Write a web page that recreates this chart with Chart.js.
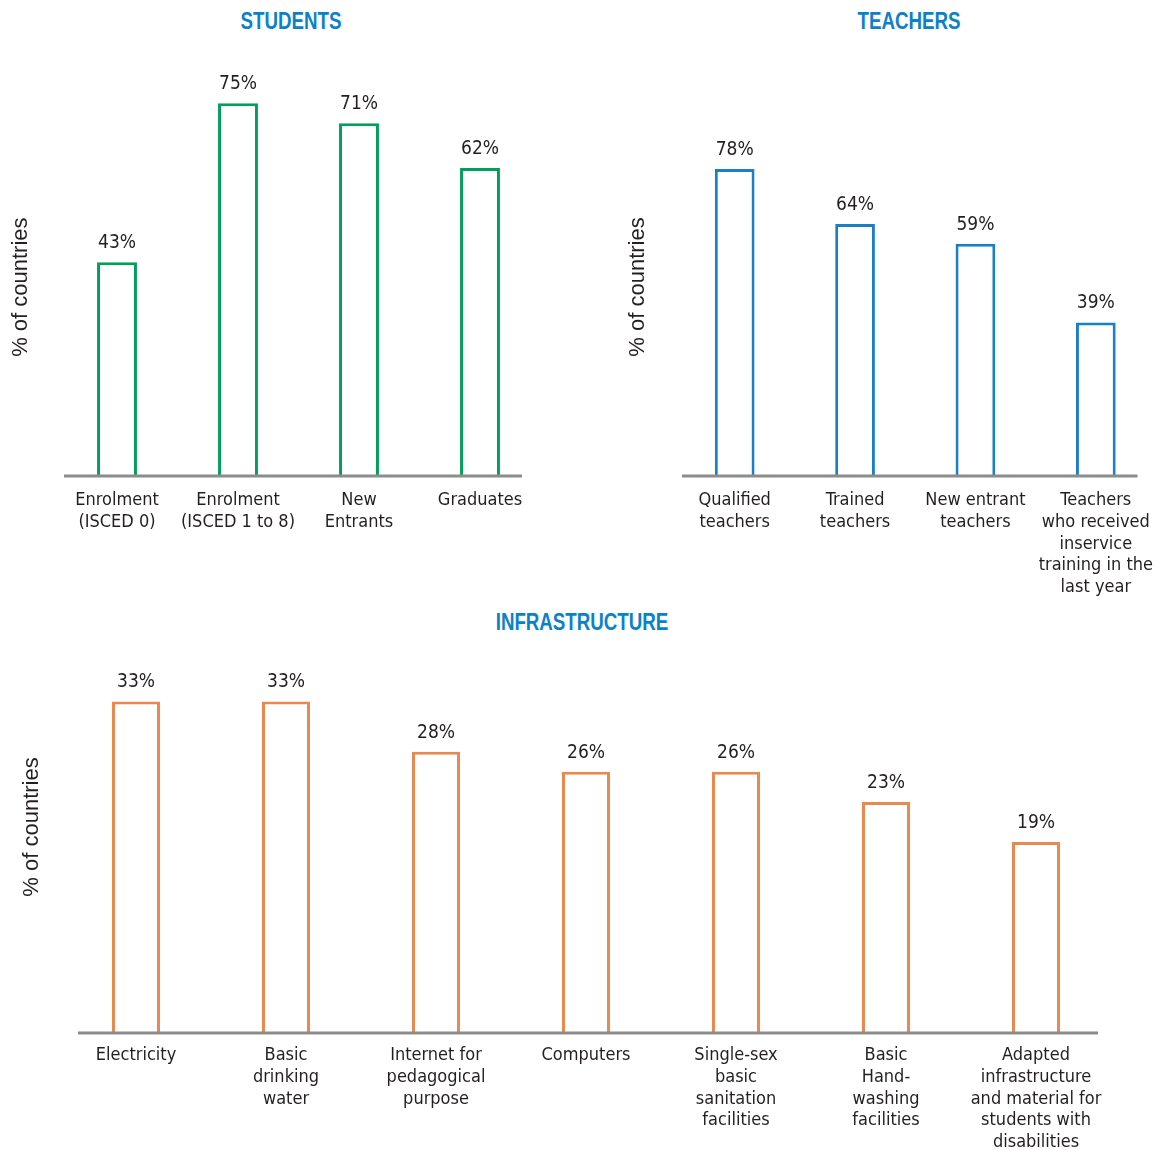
<!DOCTYPE html>
<html>
<head>
<meta charset="utf-8">
<script src="https://cdn.jsdelivr.net/npm/chart.js@4.4.1/dist/chart.umd.min.js"></script>
<style>
  html, body { margin: 0; padding: 0; background: #fff; overflow: hidden; }
  body { width: 1156px; height: 1150px; position: relative; }
  canvas { position: absolute; }
  .panel-title {
    position: absolute; width: 300px; text-align: center; line-height: 26px;
    font-family: 'Liberation Sans', Arial, sans-serif;
    font-weight: bold; font-size: 24px; color: #0b82c8;
    transform: scaleX(0.78);
  }
</style>
</head>
<body>
<div class="panel-title" style="left:141px;top:8px">STUDENTS</div>
<div class="panel-title" style="left:759px;top:8px">TEACHERS</div>
<div class="panel-title" style="left:432px;top:609px">INFRASTRUCTURE</div>

<canvas id="students-chart" width="578" height="600" style="left:0;top:0"></canvas>
<canvas id="teachers-chart" width="578" height="600" style="left:578px;top:0"></canvas>
<canvas id="infra-chart" width="1156" height="550" style="left:0;top:600px"></canvas>

<script>
// Data
const studentLabels = [['Enrolment', '(ISCED 0)'], ['Enrolment', '(ISCED 1 to 8)'], ['New', 'Entrants'], ['Graduates']];
const studentValues = [43, 75, 71, 62];

const teacherLabels = [['Qualified', 'teachers'], ['Trained', 'teachers'], ['New entrant', 'teachers'],
    ['Teachers', 'who received', 'inservice', 'training in the', 'last year']];
const teacherValues = [78, 64, 59, 39];

const infraLabels = [['Electricity'], ['Basic', 'drinking', 'water'], ['Internet for', 'pedagogical', 'purpose'],
    ['Computers'], ['Single-sex', 'basic', 'sanitation', 'facilities'], ['Basic', 'Hand-', 'washing', 'facilities'],
    ['Adapted', 'infrastructure', 'and material for', 'students with', 'disabilities']];
const infraValues = [33, 33, 28, 26, 26, 23, 19];

const yTitle = '% of countries';

const NARROW = "'DejaVu Sans Condensed', 'Liberation Sans', sans-serif";
const TEXT = '#231f20';

// draws the grey baseline and the % labels above the bars
const barExtras = {
    id: 'barExtras',
    afterDatasetsDraw(chart, args, opts) {
        const ctx = chart.ctx;
        const area = chart.chartArea;
        ctx.save();
        ctx.strokeStyle = '#8c8c8c';
        ctx.lineWidth = 3;
        ctx.beginPath();
        ctx.moveTo(area.left + opts.lineLeft, area.bottom);
        ctx.lineTo(area.right - opts.lineRight, area.bottom);
        ctx.stroke();

        ctx.fillStyle = TEXT;
        ctx.font = '19px ' + NARROW;
        ctx.textAlign = 'center';
        ctx.textBaseline = 'middle';
        const meta = chart.getDatasetMeta(0);
        meta.data.forEach((bar, i) => {
            ctx.fillText(chart.data.datasets[0].data[i] + '%', bar.x, bar.y - 19);
        });
        ctx.restore();
    }
};

function makeChart(id, labels, values, color, cfg) {
    const ctx = document.getElementById(id).getContext('2d');
    return new Chart(ctx, {
        type: 'bar',
        data: {
            labels: labels,
            datasets: [{
                data: values,
                backgroundColor: '#ffffff',
                borderColor: color,
                borderWidth: 3,
                barPercentage: cfg.barPct,
                categoryPercentage: 1
            }]
        },
        options: {
            responsive: false,
            animation: false,
            layout: { padding: cfg.padding },
            plugins: {
                legend: { display: false },
                tooltip: { enabled: false },
                barExtras: { lineLeft: cfg.lineLeft, lineRight: cfg.lineRight }
            },
            scales: {
                x: {
                    grid: { display: false, drawTicks: false },
                    border: { display: false },
                    ticks: {
                        autoSkip: false,
                        maxRotation: 0,
                        minRotation: 0,
                        padding: cfg.tickPad,
                        color: TEXT,
                        font: { family: NARROW, size: 18, lineHeight: 1.2 }
                    },
                    afterFit: s => {
                        s.height = cfg.xHeight;
                        s.paddingLeft = 0;
                        s.paddingRight = 0;
                    }
                },
                y: {
                    min: 0,
                    max: cfg.yMax,
                    grid: { display: false },
                    border: { display: false },
                    ticks: { display: false },
                    title: {
                        display: true,
                        text: yTitle,
                        color: TEXT,
                        font: { family: "'Liberation Sans', Arial, sans-serif", size: 22 }
                    },
                    afterFit: s => { s.width = cfg.yWidth; }
                }
            }
        },
        plugins: [barExtras]
    });
}

document.addEventListener('DOMContentLoaded', () => {
    makeChart('students-chart', studentLabels, studentValues, '#00a05c', {
        padding: { left: 4, right: 37.5, top: 98.3, bottom: 0 },
        yWidth: 52.5, xHeight: 124, yMax: 76, tickPad: 14, barPct: 0.33,
        lineLeft: 7.5, lineRight: 18.5
    });
    makeChart('teachers-chart', teacherLabels, teacherValues, '#1a80c6', {
        padding: { left: 43, right: -2.5, top: 98, bottom: 0 },
        yWidth: 53.5, xHeight: 124, yMax: 96, tickPad: 14, barPct: 0.33,
        lineLeft: 7.5, lineRight: 18.5
    });
    makeChart('infra-chart', infraLabels, infraValues, '#e8894f', {
        padding: { left: 15, right: 45, top: 21, bottom: 0 },
        yWidth: 46, xHeight: 117, yMax: 41, tickPad: 12, barPct: 0.32,
        lineLeft: 17, lineRight: 13
    });
});
</script>
</body>
</html>
